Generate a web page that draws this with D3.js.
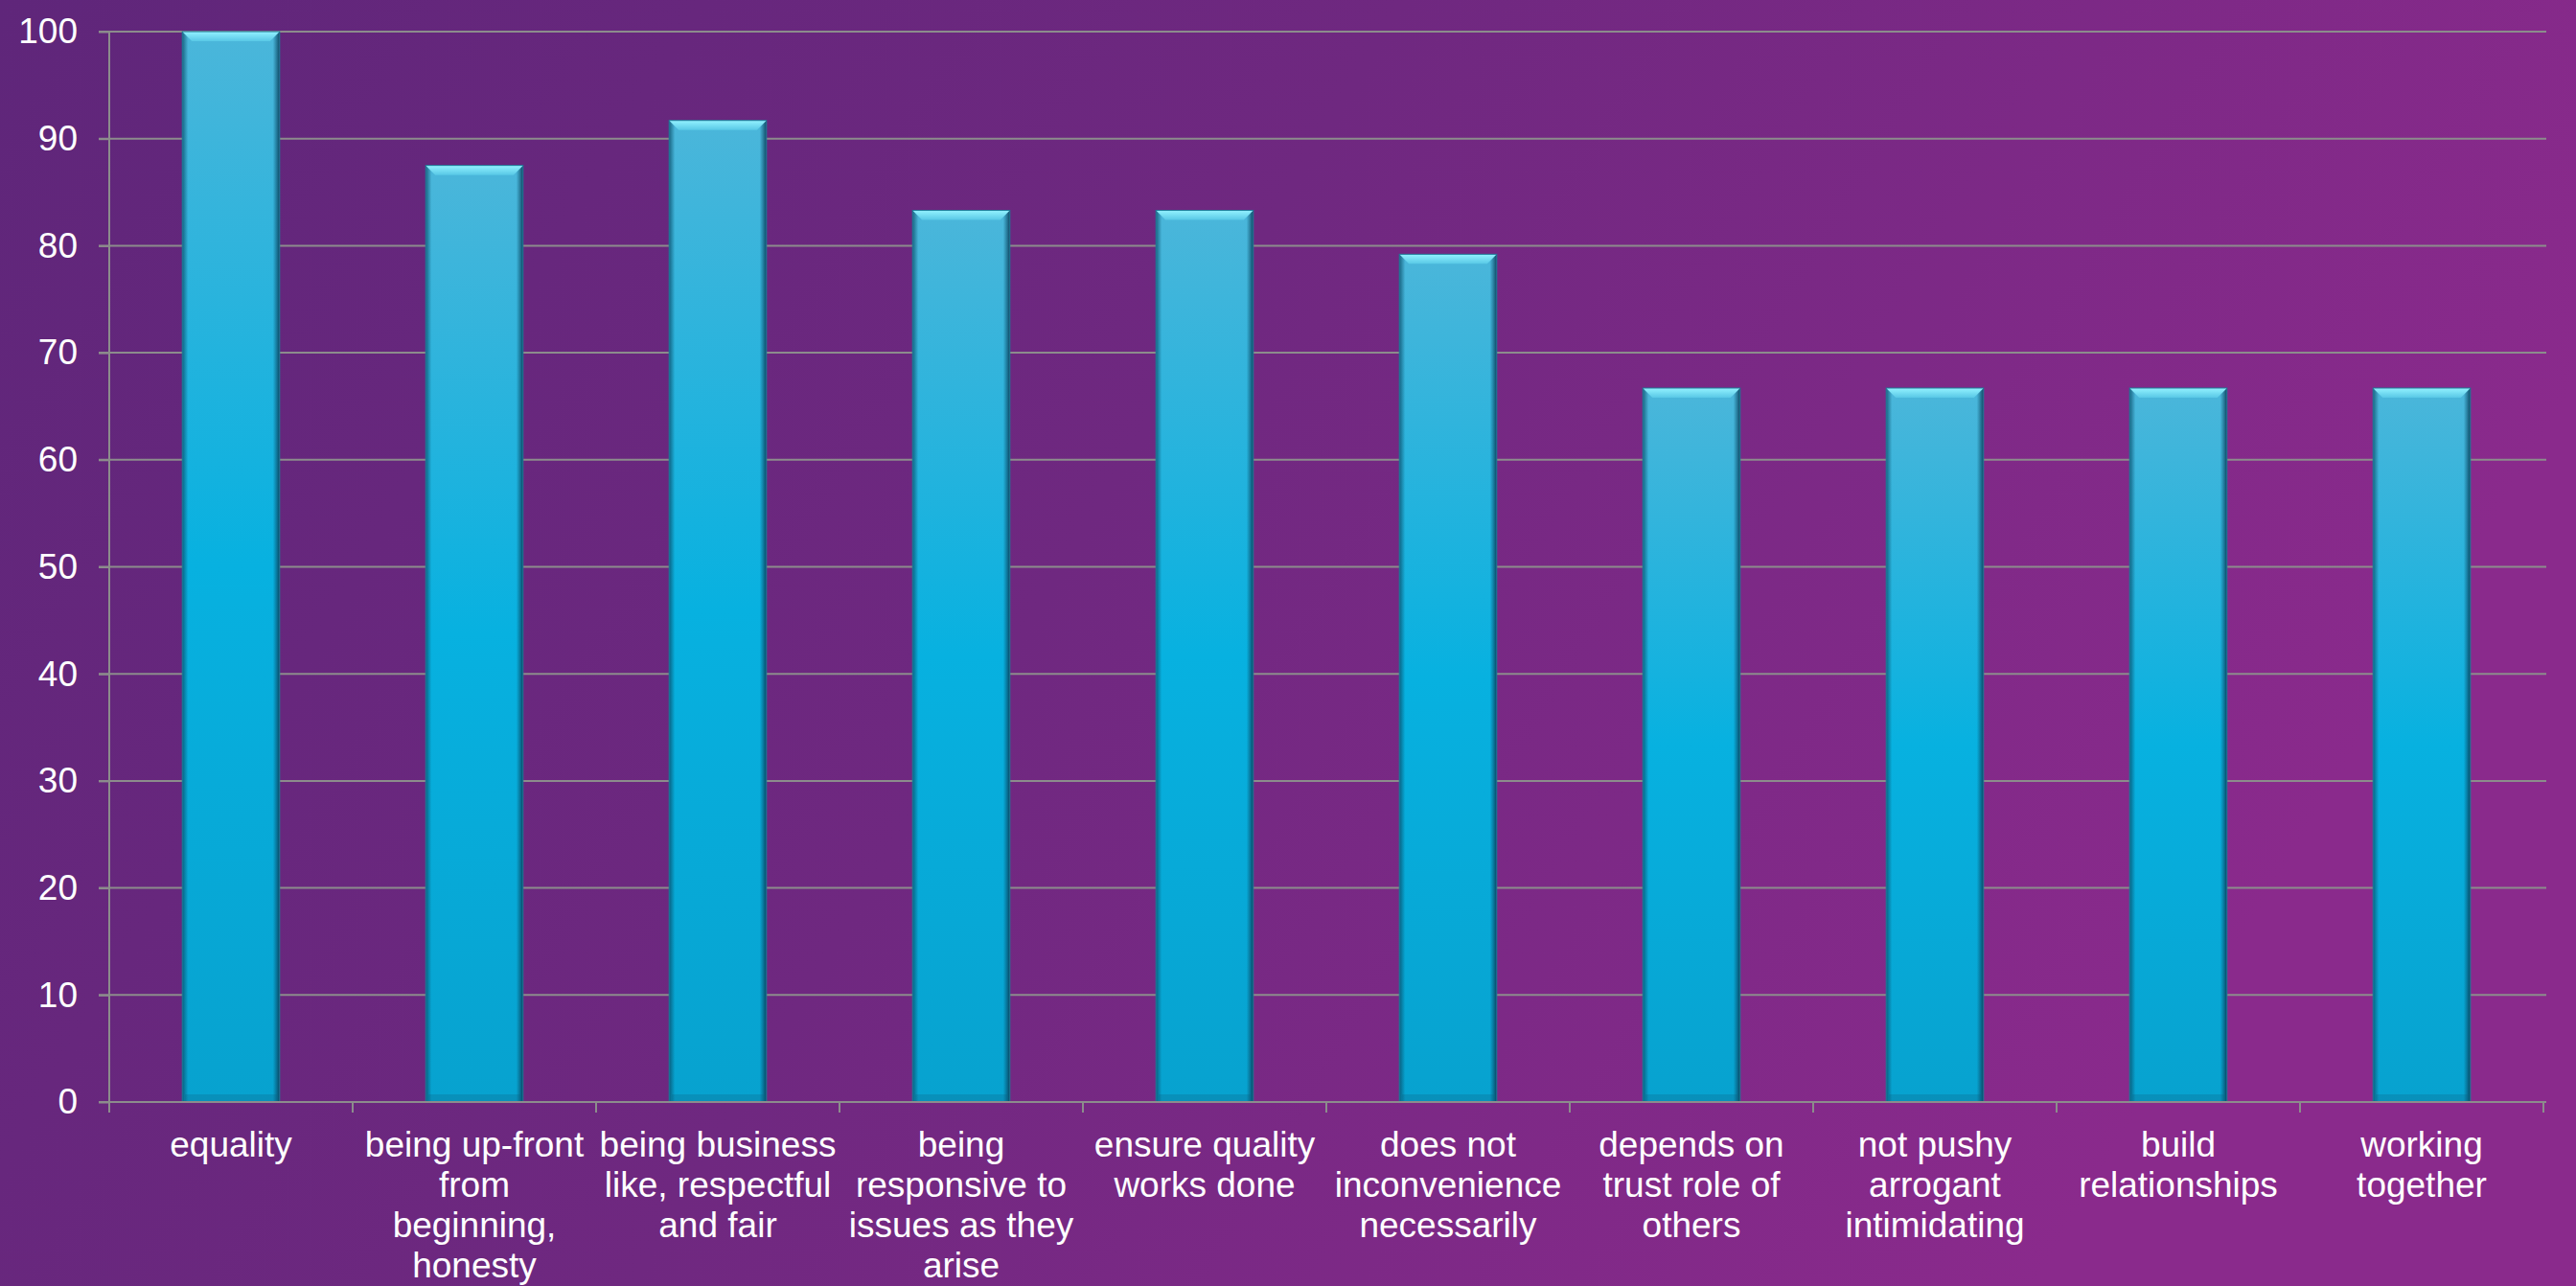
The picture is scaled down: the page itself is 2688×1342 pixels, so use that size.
<!DOCTYPE html>
<html>
<head>
<meta charset="utf-8">
<script src="https://cdn.jsdelivr.net/npm/d3@7"></script>
<style>
  html, body { margin: 0; padding: 0; overflow: hidden; }
  body { width: 2688px; height: 1342px; }
  text { font-family: "Liberation Sans", Arial, sans-serif; fill: #fff; }
</style>
</head>
<body>
<div id="chart"></div>
<script>
// chart data
var categories = [
  "equality",
  "being up-front\nfrom\nbeginning,\nhonesty",
  "being business\nlike, respectful\nand fair",
  "being\nresponsive to\nissues as they\narise",
  "ensure quality\nworks done",
  "does not\ninconvenience\nnecessarily",
  "depends on\ntrust role of\nothers",
  "not pushy\narrogant\nintimidating",
  "build\nrelationships",
  "working\ntogether"
];
var values = [100, 87.5, 91.7, 83.3, 83.3, 79.2, 66.7, 66.7, 66.7, 66.7];
var yTicks = [0, 10, 20, 30, 40, 50, 60, 70, 80, 90, 100];

var W = 2688, H = 1342;
var margin = {top: 33, right: 34, bottom: 192, left: 114},
    width = W - margin.left - margin.right,
    height = H - margin.top - margin.bottom;

var svg = d3.select("#chart").append("svg")
  .attr("width", W)
  .attr("height", H);

var defs = svg.append("defs");

// background purple gradient
var bg = defs.append("linearGradient").attr("id", "bg")
  .attr("x1", "0").attr("y1", "0").attr("x2", "1").attr("y2", "0.3");
bg.append("stop").attr("offset", "0").attr("stop-color", "#5f267a");
bg.append("stop").attr("offset", "0.5").attr("stop-color", "#6f2880");
bg.append("stop").attr("offset", "1").attr("stop-color", "#8a2a8c");

// bar body gradient
var bar = defs.append("linearGradient").attr("id", "barFill")
  .attr("x1", "0").attr("y1", "0").attr("x2", "0").attr("y2", "1");
bar.append("stop").attr("offset", "0").attr("stop-color", "#4bb6da");
bar.append("stop").attr("offset", "0.5").attr("stop-color", "#07b1e0");
bar.append("stop").attr("offset", "1").attr("stop-color", "#07a2cf");

// dark sides
var side = defs.append("linearGradient").attr("id", "sideShade")
  .attr("x1", "0").attr("y1", "0").attr("x2", "1").attr("y2", "0");
side.append("stop").attr("offset", "0").attr("stop-color", "#0a4a66").attr("stop-opacity", 0.75);
side.append("stop").attr("offset", "0.06").attr("stop-color", "#0a4a66").attr("stop-opacity", 0);
side.append("stop").attr("offset", "0.93").attr("stop-color", "#0a4a66").attr("stop-opacity", 0);
side.append("stop").attr("offset", "1").attr("stop-color", "#083a55").attr("stop-opacity", 0.9);

// top bevel
var bev = defs.append("linearGradient").attr("id", "bevel")
  .attr("x1", "0").attr("y1", "0").attr("x2", "0").attr("y2", "1");
bev.append("stop").attr("offset", "0").attr("stop-color", "#93f2ff");
bev.append("stop").attr("offset", "1").attr("stop-color", "#58c8e6");

svg.append("rect")
  .attr("width", W).attr("height", H)
  .attr("fill", "url(#bg)");

var g = svg.append("g")
  .attr("transform", "translate(" + margin.left + "," + margin.top + ")");

var x = d3.scaleBand()
  .domain(categories)
  .range([0, width])
  .paddingInner(0.6)
  .paddingOuter(0.3);

var y = d3.scaleLinear()
  .domain([0, 100])
  .range([height, 0]);

// gridlines
g.append("g")
  .selectAll("line")
  .data(yTicks.filter(function(d) { return d > 0; }))
  .enter().append("line")
  .attr("x1", -11)
  .attr("x2", width + 3)
  .attr("y1", function(d) { return y(d); })
  .attr("y2", function(d) { return y(d); })
  .attr("stroke", "#8c8c8c")
  .attr("stroke-width", 2);

// y axis
var yAxis = g.append("g")
  .call(d3.axisLeft(y).tickValues(yTicks).tickSize(11).tickPadding(22));
yAxis.selectAll("line").attr("stroke", "#8c8c8c").attr("stroke-width", 2);
yAxis.select(".domain").attr("stroke", "#8c8c8c").attr("stroke-width", 2)
  .attr("d", "M0," + (height + 11) + "V0");
yAxis.selectAll("text")
  .attr("fill", "#fff")
  .style("font-size", "37px")
  .style("font-family", "Liberation Sans, Arial, sans-serif");

// bars
var bars = g.append("g").selectAll("g.bar")
  .data(values)
  .enter().append("g")
  .attr("class", "bar");

bars.append("rect")
  .attr("x", function(d, i) { return x(categories[i]); })
  .attr("y", function(d) { return y(d); })
  .attr("width", x.bandwidth())
  .attr("height", function(d) { return height - y(d); })
  .attr("fill", "url(#barFill)");

bars.append("rect")
  .attr("x", function(d, i) { return x(categories[i]); })
  .attr("y", function(d) { return y(d); })
  .attr("width", x.bandwidth())
  .attr("height", function(d) { return height - y(d); })
  .attr("fill", "url(#sideShade)");

// bottom shade
bars.append("rect")
  .attr("x", function(d, i) { return x(categories[i]) + 3; })
  .attr("y", height - 8)
  .attr("width", x.bandwidth() - 6)
  .attr("height", 8)
  .attr("fill", "#0a5a7a")
  .attr("opacity", 0.25);

var bevelH = 10;
bars.append("path")
  .attr("d", function(d, i) {
    var x0 = x(categories[i]), x1 = x0 + x.bandwidth(), yt = y(d);
    return "M" + x0 + "," + yt + "L" + x1 + "," + yt +
      "L" + (x1 - bevelH) + "," + (yt + bevelH) +
      "L" + (x0 + bevelH) + "," + (yt + bevelH) + "Z";
  })
  .attr("fill", "url(#bevel)");

bars.append("rect")
  .attr("x", function(d, i) { return x(categories[i]); })
  .attr("y", function(d) { return y(d); })
  .attr("width", x.bandwidth())
  .attr("height", function(d) { return height - y(d); })
  .attr("fill", "none")
  .attr("stroke", "#1f7896")
  .attr("stroke-width", 1);

// x axis with ticks at category boundaries
var step = x.step();
var xa = g.append("g").attr("transform", "translate(0," + height + ")");
xa.append("line")
  .attr("x1", -11).attr("x2", width + 3)
  .attr("y1", 0).attr("y2", 0)
  .attr("stroke", "#8c8c8c").attr("stroke-width", 2);
xa.selectAll("line.tick")
  .data(d3.range(categories.length + 1))
  .enter().append("line")
  .attr("class", "tick")
  .attr("x1", function(i) { return i * step; })
  .attr("x2", function(i) { return i * step; })
  .attr("y1", 0).attr("y2", 11)
  .attr("stroke", "#8c8c8c").attr("stroke-width", 2);

var labels = xa.selectAll("text.cat")
  .data(categories)
  .enter().append("text")
  .attr("class", "cat")
  .attr("text-anchor", "middle")
  .attr("transform", function(d) { return "translate(" + (x(d) + x.bandwidth() / 2) + ",57)"; })
  .style("font-size", "37px");

labels.selectAll("tspan")
  .data(function(d) { return d.split("\n"); })
  .enter().append("tspan")
  .attr("x", 0)
  .attr("y", function(d, i) { return i * 42; })
  .text(function(d) { return d; });
</script>
</body>
</html>
